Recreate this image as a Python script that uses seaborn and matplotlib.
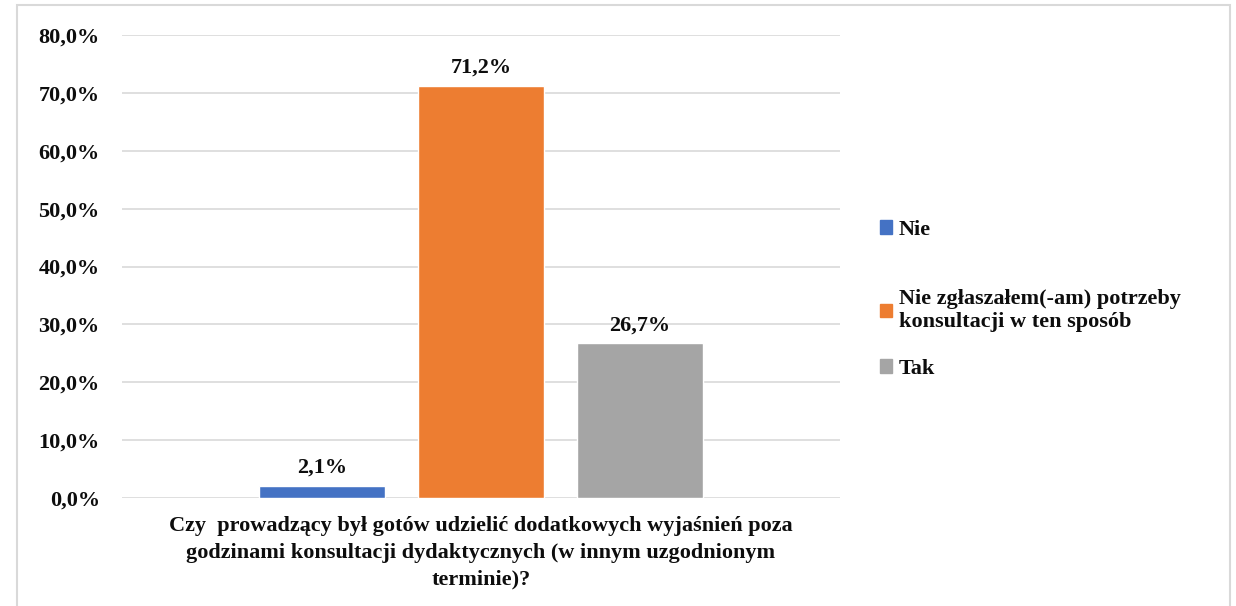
import matplotlib
matplotlib.use("Agg")
import matplotlib.pyplot as plt
import matplotlib.patches as mpatches
import seaborn as sns
import pandas as pd

question = "Czy  prowadzący był gotów udzielić dodatkowych wyjaśnień poza\ngodzinami konsultacji dydaktycznych (w innym uzgodnionym\nterminie)?"
answers = ["Nie", "Nie zgłaszałem(-am) potrzeby\nkonsultacji w ten sposób", "Tak"]
values = [2.1, 71.2, 26.7]
colors = ["#4472C4", "#ED7D31", "#A5A5A5"]
yticks = [0, 10, 20, 30, 40, 50, 60, 70, 80]

df = pd.DataFrame({"q": ["q"] * len(answers), "answer": answers, "value": values})

sns.set_theme(style="white")
plt.rcParams["font.family"] = ["Liberation Serif", "DejaVu Serif"]
plt.rcParams["font.weight"] = "bold"

txt = "#0d0d0d"
fig = plt.figure(figsize=(12.36, 6.06), dpi=100)
ax = fig.add_axes([122 / 1236, 1 - 498 / 606, (840 - 122) / 1236, (498 - 35) / 606])

sns.barplot(data=df, x="q", y="value", hue="answer", palette=colors,
            width=0.664, gap=0.21, ax=ax, legend=False, saturation=1)

ax.set_xlim(-0.5, 0.5)
ax.set_ylim(0, 80)
ax.set_yticks(yticks)
ax.set_yticklabels([f"{v:.1f}".replace(".", ",") + "%" for v in yticks],
                   fontsize=16, fontweight="bold", color=txt)
ax.tick_params(axis="y", length=0, pad=16)
ax.set_xticks([])
ax.set_xlabel(question, fontsize=16, fontweight="bold", linespacing=1.45,
              labelpad=13, color=txt)
ax.set_ylabel("")
ax.grid(axis="y", color="#d9d9d9", linewidth=1.2)
ax.set_axisbelow(True)
for s in ax.spines.values():
    s.set_visible(False)

for cont in ax.containers:
    ax.bar_label(cont, labels=[f"{v:.1f}".replace(".", ",") + "%" for v in cont.datavalues],
                 padding=6, fontsize=16, fontweight="bold", color=txt)

handles = [mpatches.Patch(color=c) for c in colors]
legkw = dict(loc="center left", frameon=False, prop={"weight": "bold", "size": 16},
             handlelength=0.55, handleheight=0.55, handletextpad=0.3, labelcolor=txt,
             borderaxespad=0, borderpad=0)
fig.legend(handles[:1], answers[:1], bbox_to_anchor=(880 / 1236, 1 - 230 / 606), **legkw)
fig.legend(handles[1:], answers[1:], bbox_to_anchor=(880 / 1236, 1 - 334 / 606),
           labelspacing=1.2, **legkw)

fig.patches.append(mpatches.Rectangle((17 / 1236, -0.01), (1230 - 17) / 1236, 1 - 5 / 606 + 0.01,
                                      transform=fig.transFigure, fill=False,
                                      edgecolor="#d9d9d9", linewidth=1.5))

fig.savefig("out.png", dpi=100)
